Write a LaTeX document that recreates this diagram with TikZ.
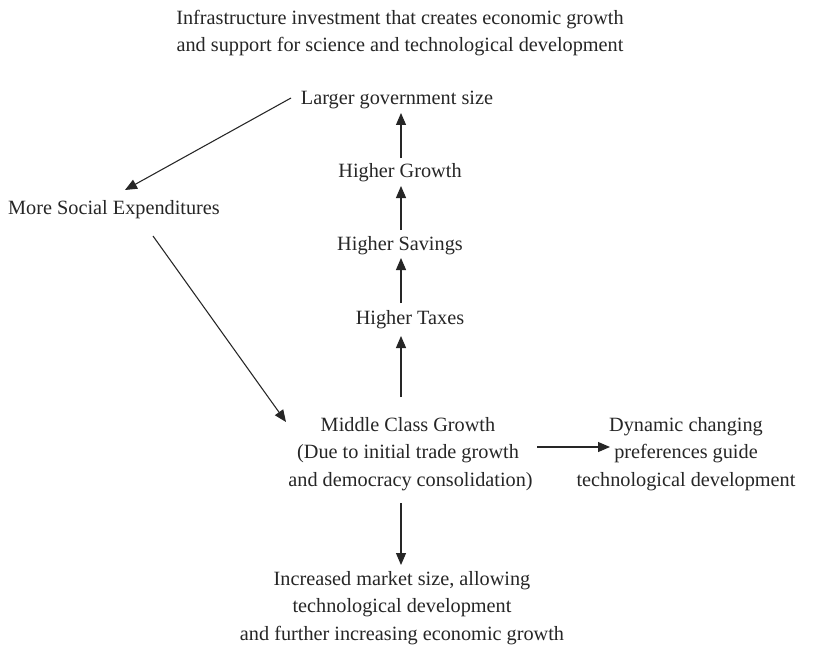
\documentclass[tikz,border=0pt]{standalone}
\usepackage{fontspec}
\setmainfont{Liberation Serif}
\usetikzlibrary{arrows.meta,calc}
\begin{document}
\begin{tikzpicture}[x=0.75pt,y=-0.75pt,
  lbl/.style={inner sep=0pt,align=center,text=black!85,font=\fontsize{15.2}{20.6}\selectfont},
  arr/.style={draw=black!85,line width=0.8pt,-{Triangle[length=9pt,width=7.5pt]}}]
\useasboundingbox[fill=white] (0,0) rectangle (816,656);
\node[lbl] (title) at (400,33) {Infrastructure investment that creates economic growth\\and support for science and technological development};
\node[lbl] (lg) at (397,100) {Larger government size};
\node[lbl] (hg) at (400,173) {Higher Growth};
\node[lbl] (hs) at (400,246) {Higher Savings};
\node[lbl] (ht) at (410,320) {Higher Taxes};
\node[lbl] (mse) at (114,210) {More Social Expenditures};
\node[lbl] (mc) at (408,454) {Middle Class Growth\\(Due to initial trade growth\\\ and democracy consolidation)};
\node[lbl] (dyn) at (686,454) {Dynamic changing\\preferences guide\\technological development};
\node[lbl] (ims) at (402,608) {Increased market size, allowing\\technological development\\and further increasing economic growth};
\draw[arr] ($(lg)+(-106,-2)$) -- ($(mse)+(11,-20)$);
\draw[arr] ($(mse)+(39,26)$) -- ($(mc)+(-122,-32)$);
\draw[arr] ($(hg)+(1,-15)$) -- ($(lg)+(4,13)$);
\draw[arr] ($(hs)+(1,-16)$) -- ($(hg)+(1,13)$);
\draw[arr] ($(ht)+(-9,-17)$) -- ($(hs)+(1,12)$);
\draw[arr] ($(mc)+(-7,-57)$) -- ($(ht)+(-9,16)$);
\draw[arr] ($(mc)+(129,-7)$) -- ($(dyn)+(-76,-7)$);
\draw[arr] ($(mc)+(-7,49)$) -- ($(ims)+(-1,-43)$);
\end{tikzpicture}
\end{document}
